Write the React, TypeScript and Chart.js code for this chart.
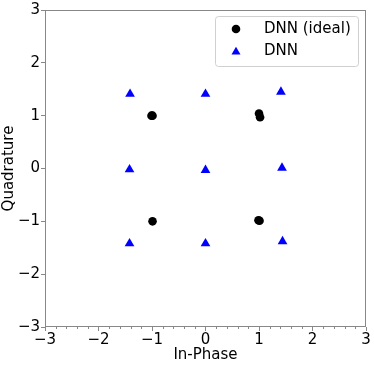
import React, { useEffect, useRef } from "react";
import { Chart, registerables } from "chart.js";

Chart.register(...registerables);

const seriesLabels = ["DNN (ideal)", "DNN"];
const idealI = [-1.01, -0.99, 1.0, 1.02, -0.99, 0.99, 1.01];
const idealQ = [1.0, 1.0, 1.04, 0.97, -1.0, -0.98, -0.99];
const dnnI = [-1.41, 0.0, 1.41, -1.42, 0.0, 1.43, -1.42, 0.0, 1.44];
const dnnQ = [1.41, 1.41, 1.45, -0.02, -0.03, 0.01, -1.42, -1.42, -1.38];
const axisTicks = [-3, -2, -1, 0, 1, 2, 3];
const xTitle = "In-Phase";
const yTitle = "Quadrature";

const FONT = "'DejaVu Sans', sans-serif";
const fmt = (v: number) => (v < 0 ? "\u2212" + Math.abs(v) : String(v));

const framePlugin = {
  id: "frameAndLegend",
  afterDraw(chart: any) {
    const { ctx, chartArea, scales } = chart;
    ctx.save();
    // frame
    ctx.strokeStyle = "#888";
    ctx.lineWidth = 1;
    const l = Math.round(chartArea.left) + 0.5;
    const t = Math.round(chartArea.top) + 0.5;
    const r = Math.round(chartArea.right) - 0.5;
    const b = Math.round(chartArea.bottom) - 0.5;
    ctx.strokeRect(l, t, r - l, b - t);
    // minor ticks on x axis
    const xs = scales.x;
    ctx.beginPath();
    for (let k = -15; k <= 15; k++) {
      if (k % 5 === 0) continue;
      const px = Math.round(xs.getPixelForValue(k / 5)) + 0.5;
      ctx.moveTo(px, b);
      ctx.lineTo(px, b + 2.5);
    }
    ctx.stroke();

    // legend
    const bx = 215.5, by = 16.5, bw = 143, bh = 50, rad = 3;
    ctx.beginPath();
    ctx.moveTo(bx + rad, by);
    ctx.lineTo(bx + bw - rad, by);
    ctx.arcTo(bx + bw, by, bx + bw, by + rad, rad);
    ctx.lineTo(bx + bw, by + bh - rad);
    ctx.arcTo(bx + bw, by + bh, bx + bw - rad, by + bh, rad);
    ctx.lineTo(bx + rad, by + bh);
    ctx.arcTo(bx, by + bh, bx, by + bh - rad, rad);
    ctx.lineTo(bx, by + rad);
    ctx.arcTo(bx, by, bx + rad, by, rad);
    ctx.closePath();
    ctx.fillStyle = "rgba(255,255,255,0.8)";
    ctx.fill();
    ctx.strokeStyle = "#d0d0d0";
    ctx.stroke();

    const ds = chart.data.datasets;
    // circle marker
    ctx.fillStyle = ds[0].backgroundColor;
    ctx.beginPath();
    ctx.arc(236, 29, 4.3, 0, Math.PI * 2);
    ctx.fill();
    // triangle marker
    const tr = 5.2, cx = 236, cy = 52;
    ctx.fillStyle = ds[1].backgroundColor;
    ctx.beginPath();
    ctx.moveTo(cx, cy - tr);
    ctx.lineTo(cx + tr * Math.sin((2 * Math.PI) / 3), cy - tr * Math.cos((2 * Math.PI) / 3));
    ctx.lineTo(cx + tr * Math.sin((4 * Math.PI) / 3), cy - tr * Math.cos((4 * Math.PI) / 3));
    ctx.closePath();
    ctx.fill();

    ctx.fillStyle = "#000";
    ctx.font = "15px " + FONT;
    ctx.textBaseline = "middle";
    ctx.textAlign = "left";
    ctx.fillText(ds[0].label, 264, 29);
    ctx.fillText(ds[1].label, 264, 51);
    ctx.restore();
  },
};

export default function App() {
  const ref = useRef<HTMLCanvasElement>(null);
  useEffect(() => {
    if (!ref.current) return;
    const chart = new Chart(ref.current, {
      type: "scatter",
      data: {
        datasets: [
          {
            label: seriesLabels[0],
            data: idealI.map((x, i) => ({ x, y: idealQ[i] })),
            backgroundColor: "#000000",
            borderColor: "#000000",
            pointStyle: "circle",
            pointRadius: 4.3,
            borderWidth: 0,
          },
          {
            label: seriesLabels[1],
            data: dnnI.map((x, i) => ({ x, y: dnnQ[i] })),
            backgroundColor: "#0000ff",
            borderColor: "#0000ff",
            pointStyle: "triangle",
            pointRadius: 5.6,
            borderWidth: 0,
          },
        ],
      },
      options: {
        animation: false,
        responsive: false,
        devicePixelRatio: 1,
        layout: { padding: { left: 0, top: 9, right: 8, bottom: 0 } },
        plugins: { legend: { display: false }, tooltip: { enabled: false } },
        scales: {
          x: {
            type: "linear",
            min: -3,
            max: 3,
            afterBuildTicks: (s: any) => {
              s.ticks = axisTicks.map((v) => ({ value: v }));
            },
            afterFit: (s: any) => {
              s.height = 39;
            },
            border: { display: false },
            grid: { display: true, drawOnChartArea: false, drawTicks: true, tickLength: 4, color: "#888" },
            ticks: {
              color: "#000",
              font: { family: FONT, size: 15 },
              padding: 0,
              maxRotation: 0,
              autoSkip: false,
              callback: (v: any) => fmt(Number(v)),
            },
            title: {
              display: true,
              text: xTitle,
              color: "#000",
              font: { family: FONT, size: 15 },
              padding: { top: 0, bottom: 2 },
            },
          },
          y: {
            type: "linear",
            min: -3,
            max: 3,
            afterBuildTicks: (s: any) => {
              s.ticks = axisTicks.map((v) => ({ value: v }));
            },
            afterFit: (s: any) => {
              s.width = 45;
            },
            border: { display: false },
            grid: { display: true, drawOnChartArea: false, drawTicks: true, tickLength: 4, color: "#888" },
            ticks: {
              color: "#000",
              font: { family: FONT, size: 15 },
              padding: 1,
              autoSkip: false,
              callback: (v: any) => fmt(Number(v)),
            },
            title: {
              display: true,
              text: yTitle,
              color: "#000",
              font: { family: FONT, size: 15 },
              padding: { top: 0, bottom: 0 },
            },
          },
        },
      },
      plugins: [framePlugin],
    });
    return () => chart.destroy();
  }, []);
  return (
    <div style={{ position: "fixed", left: 0, top: 0, width: 374, height: 366, background: "#fff" }}>
      <canvas ref={ref} width={374} height={366} style={{ display: "block", width: 374, height: 366 }} />
    </div>
  );
}
